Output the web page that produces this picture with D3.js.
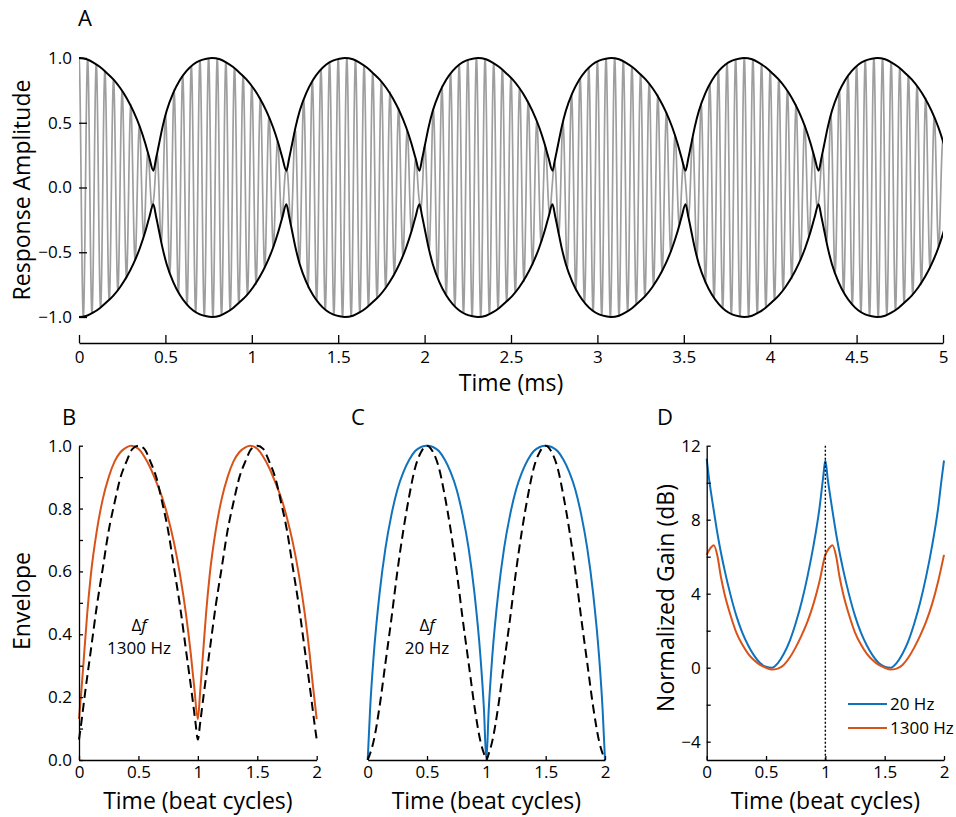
<!DOCTYPE html>
<html>
<head>
<meta charset="utf-8">
<script src="https://cdn.jsdelivr.net/npm/d3@7"></script>
<style>
  body { margin: 0; background: #fff; }
  svg text { font-family: 'Open Sans', 'Noto Sans', sans-serif; fill: #000; }
  .axis .domain, .axis line { stroke: #000; stroke-width: 1.3; }
  .axis text { font-family: 'Open Sans', 'Noto Sans', sans-serif; }
</style>
</head>
<body>
<div id="chart"></div>
<script>
// ---- data ----

// panel A: response to the 1300 Hz beat, time in ms
var timeTicksA = [0, 0.5, 1, 1.5, 2, 2.5, 3, 3.5, 4, 4.5, 5];
var ampTicksA = [-1, -0.5, 0, 0.5, 1];
var firstDipMs = 0.43;     // first envelope minimum
var beatPeriodMs = 0.77;   // 1 / 1300 Hz
var carrierKHz = 20;       // gray carrier, ~20 cycles per ms

// one beat cycle (dip to dip), used for the 1300 Hz envelope in A and B
var env1300Phase = [0, 0.02, 0.04, 0.07, 0.10, 0.15, 0.20, 0.25, 0.30, 0.35, 0.40, 0.44,
  0.50, 0.55, 0.60, 0.65, 0.70, 0.75, 0.80, 0.85, 0.90, 0.94, 0.97, 1.00];
var env1300 = [0.13, 0.22, 0.32, 0.47, 0.59, 0.73, 0.83, 0.90, 0.95, 0.98, 0.995, 1.0,
  0.99, 0.965, 0.93, 0.885, 0.835, 0.77, 0.69, 0.59, 0.465, 0.34, 0.23, 0.13];

// dashed reference envelopes (one cycle)
var refPhase = [0, 0.02, 0.05, 0.10, 0.15, 0.20, 0.25, 0.30, 0.35, 0.40, 0.45, 0.50,
  0.55, 0.60, 0.65, 0.70, 0.75, 0.80, 0.85, 0.90, 0.95, 0.98, 1.00];
var refB = [0.065, 0.12, 0.21, 0.35, 0.49, 0.61, 0.73, 0.82, 0.90, 0.95, 0.99, 1.0,
  0.99, 0.95, 0.90, 0.82, 0.73, 0.61, 0.49, 0.35, 0.21, 0.12, 0.065];
var refC = [0, 0.02, 0.06, 0.17, 0.31, 0.45, 0.60, 0.73, 0.84, 0.93, 0.98, 1.0,
  0.98, 0.93, 0.84, 0.73, 0.60, 0.45, 0.31, 0.17, 0.06, 0.02, 0];

// 20 Hz envelope (panel C, one cycle)
var env20 = [0, 0.16, 0.33, 0.53, 0.675, 0.78, 0.86, 0.915, 0.955, 0.983, 0.996, 1.0,
  0.996, 0.983, 0.955, 0.915, 0.86, 0.78, 0.675, 0.53, 0.33, 0.16, 0];

// panel D: normalized gain (dB), one cycle each
var gain20Phase = [0, 0.02, 0.05, 0.10, 0.15, 0.20, 0.25, 0.30, 0.35, 0.40, 0.45, 0.50,
  0.55, 0.60, 0.65, 0.70, 0.75, 0.80, 0.85, 0.90, 0.95, 0.98, 1.00];
var gain20 = [11.3, 10.2, 8.9, 6.9, 5.3, 3.95, 2.8, 1.9, 1.2, 0.65, 0.25, 0.05,
  0.0, 0.25, 0.75, 1.45, 2.4, 3.55, 4.95, 6.6, 8.6, 10.2, 11.2];
var gain1300Phase = [0, 0.03, 0.06, 0.09, 0.12, 0.15, 0.20, 0.25, 0.30, 0.35, 0.40, 0.45,
  0.50, 0.55, 0.60, 0.65, 0.70, 0.75, 0.80, 0.85, 0.90, 0.95, 1.00];
var gain1300 = [6.1, 6.45, 6.62, 6.05, 4.9, 4.0, 2.85, 1.9, 1.25, 0.75, 0.4, 0.15,
  0.0, -0.1, -0.05, 0.15, 0.55, 1.1, 1.75, 2.5, 3.45, 4.65, 6.1];

var cycleTicks = [0, 0.5, 1, 1.5, 2];
var envTicks = [0, 0.1, 0.2, 0.3, 0.4, 0.5, 0.6, 0.7, 0.8, 0.9, 1.0];
var gainTicks = [-4, -2, 0, 2, 4, 6, 8, 10, 12];
var legendLabels = ['20 Hz', '1300 Hz'];

var blue = '#0f72bd';
var orange = '#d95319';

var tickFont = '17px';
var titleFont = '23px';

// ---- helpers ----
// repeat a one-cycle series over the cycles 0..n-1
function cycles(phase, vals, n) {
  var pts = [];
  for (var k = 0; k < n; k++) {
    phase.forEach(function(p, i) {
      if (k > 0 && i === 0) return;
      pts.push([k + p, vals[i]]);
    });
  }
  return pts;
}

var svg = d3.select('#chart')
  .append('svg')
  .attr('width', 956)
  .attr('height', 817);

function axisStyle(g) {
  g.classed('axis', true);
  g.selectAll('text').style('font-size', tickFont);
}

// ================= panel A =================
var xA = d3.scaleLinear().domain([0, 5]).range([79, 943]);
var yA = d3.scaleLinear().domain([-1, 1]).range([317, 58]);

svg.append('clipPath').attr('id', 'clipA')
  .append('rect').attr('x', 79).attr('y', 40).attr('width', 864).attr('height', 300);

var gA = svg.append('g').attr('clip-path', 'url(#clipA)');

// envelope value at any time, from the one-cycle envelope
var envScale = d3.scaleLinear().domain(env1300Phase).range(env1300);
function envAt(t) {
  var ph = (t - firstDipMs) / beatPeriodMs;
  ph = ph - Math.floor(ph);
  return envScale(ph);
}

var carrier = d3.range(0, 5.0005, 0.001).map(function(t) {
  return [t, envAt(t) * Math.cos(2 * Math.PI * carrierKHz * t)];
});

gA.append('path')
  .datum(carrier)
  .attr('fill', 'none')
  .attr('stroke', '#9e9e9e')
  .attr('stroke-width', 1.7)
  .attr('d', d3.line().x(d => xA(d[0])).y(d => yA(d[1])));

// upper and lower envelopes
var envA = [];
for (var k = -1; k < 7; k++) {
  env1300Phase.forEach(function(p, i) {
    if (i === 0 && k > -1) return;
    envA.push([firstDipMs + (k + p) * beatPeriodMs, env1300[i]]);
  });
}
var envLine = d3.line().curve(d3.curveMonotoneX).x(d => xA(d[0]));
gA.append('path')
  .datum(envA)
  .attr('fill', 'none').attr('stroke', '#000').attr('stroke-width', 2)
  .attr('d', envLine.y(d => yA(d[1])));
gA.append('path')
  .datum(envA)
  .attr('fill', 'none').attr('stroke', '#000').attr('stroke-width', 2)
  .attr('d', envLine.y(d => yA(-d[1])));

svg.append('g')
  .attr('transform', 'translate(0,343)')
  .call(d3.axisBottom(xA).tickValues(timeTicksA).tickSizeInner(-8).tickSizeOuter(0)
    .tickPadding(8).tickFormat(d3.format('~g')))
  .call(axisStyle);

svg.append('g')
  .attr('transform', 'translate(79,0)')
  .call(d3.axisLeft(yA).tickValues(ampTicksA).tickSizeInner(-8).tickSizeOuter(0)
    .tickPadding(7).tickFormat(d3.format('.1f')))
  .call(axisStyle)
  .call(g => g.select('.domain').remove());

svg.append('text').attr('x', 78).attr('y', 26).style('font-size', '22px').text('A');
svg.append('text')
  .attr('transform', 'translate(30,190) rotate(-90)')
  .attr('text-anchor', 'middle').style('font-size', titleFont)
  .text('Response Amplitude');
svg.append('text').attr('x', 511).attr('y', 391)
  .attr('text-anchor', 'middle').style('font-size', titleFont).text('Time (ms)');

// ================= panels B, C, D =================
var yB = d3.scaleLinear().domain([0, 1]).range([760, 445.7]);
var xB = d3.scaleLinear().domain([0, 2]).range([79, 316.7]);
var xC = d3.scaleLinear().domain([0, 2]).range([367.7, 605]);
var xD = d3.scaleLinear().domain([0, 2]).range([706.7, 944]);
var yD = d3.scaleLinear().domain([-5, 12]).range([760.2, 445.7]);

function xAxisCycles(x) {
  svg.append('g')
    .attr('transform', 'translate(0,760)')
    .call(d3.axisBottom(x).tickValues(cycleTicks).tickSizeInner(-4).tickSizeOuter(0)
      .tickPadding(6).tickFormat(d3.format('~g')))
    .call(axisStyle);
  svg.append('text')
    .attr('x', (x.range()[0] + x.range()[1]) / 2).attr('y', 809)
    .attr('text-anchor', 'middle').style('font-size', titleFont)
    .text('Time (beat cycles)');
}

function drawCurve(x, y, pts, color, dash) {
  svg.append('path')
    .datum(pts)
    .attr('fill', 'none')
    .attr('stroke', color)
    .attr('stroke-width', 2)
    .attr('stroke-dasharray', dash || null)
    .attr('d', d3.line().curve(d3.curveMonotoneX).x(d => x(d[0])).y(d => y(d[1])));
}

function deltaLabel(cx, hz) {
  var t = svg.append('text').attr('x', cx).attr('y', 631)
    .attr('text-anchor', 'middle').style('font-size', '17px');
  t.append('tspan').text('Δ');
  t.append('tspan').style('font-style', 'italic').text('f');
  svg.append('text').attr('x', cx).attr('y', 654)
    .attr('text-anchor', 'middle').style('font-size', '17px').text(hz);
}

function panelLetter(x, s) {
  svg.append('text').attr('x', x).attr('y', 425).style('font-size', '22px').text(s);
}

// B
drawCurve(xB, yB, cycles(env1300Phase, env1300, 2), orange);
drawCurve(xB, yB, cycles(refPhase, refB, 2), '#000', '9,5');
svg.append('g')
  .attr('transform', 'translate(79,0)')
  .call(d3.axisLeft(yB).tickValues(envTicks).tickSizeInner(-4).tickSizeOuter(0)
    .tickPadding(7).tickFormat(d => Math.round(d * 10) % 2 === 0 ? d3.format('.1f')(d) : ''))
  .call(axisStyle);
xAxisCycles(xB);
deltaLabel(139, '1300 Hz');
panelLetter(62, 'B');
svg.append('text')
  .attr('transform', 'translate(30,601) rotate(-90)')
  .attr('text-anchor', 'middle').style('font-size', titleFont).text('Envelope');

// C
drawCurve(xC, yB, cycles(refPhase, env20, 2), blue);
drawCurve(xC, yB, cycles(refPhase, refC, 2), '#000', '9,5');
xAxisCycles(xC);
deltaLabel(427, '20 Hz');
panelLetter(351, 'C');

// D
drawCurve(xD, yD, cycles(gain20Phase, gain20, 2), blue);
drawCurve(xD, yD, cycles(gain1300Phase, gain1300, 2), orange);
svg.append('line')
  .attr('x1', xD(1)).attr('x2', xD(1))
  .attr('y1', yD(12)).attr('y2', yD(-5))
  .attr('stroke', '#000').attr('stroke-width', 1.4).attr('stroke-dasharray', '2,2');
svg.append('g')
  .attr('transform', 'translate(' + xD(0) + ',0)')
  .call(d3.axisLeft(yD).tickValues(gainTicks).tickSizeInner(-4).tickSizeOuter(0)
    .tickPadding(6).tickFormat(d => d % 4 === 0 ? d3.format('d')(d) : ''))
  .call(axisStyle);
xAxisCycles(xD);
panelLetter(657, 'D');
svg.append('text')
  .attr('transform', 'translate(674,598) rotate(-90)')
  .attr('text-anchor', 'middle').style('font-size', titleFont).text('Normalized Gain (dB)');

// legend
var legend = svg.append('g').attr('transform', 'translate(848,704)');
legend.selectAll('line')
  .data(legendLabels)
  .join('line')
  .attr('x1', 0).attr('x2', 39)
  .attr('y1', (d, i) => i * 24).attr('y2', (d, i) => i * 24)
  .attr('stroke', (d, i) => i === 0 ? blue : orange)
  .attr('stroke-width', 2);
legend.selectAll('text')
  .data(legendLabels)
  .join('text')
  .attr('x', 42).attr('y', (d, i) => i * 24 + 6)
  .style('font-size', '17px')
  .text(d => d);
</script>
</body>
</html>
